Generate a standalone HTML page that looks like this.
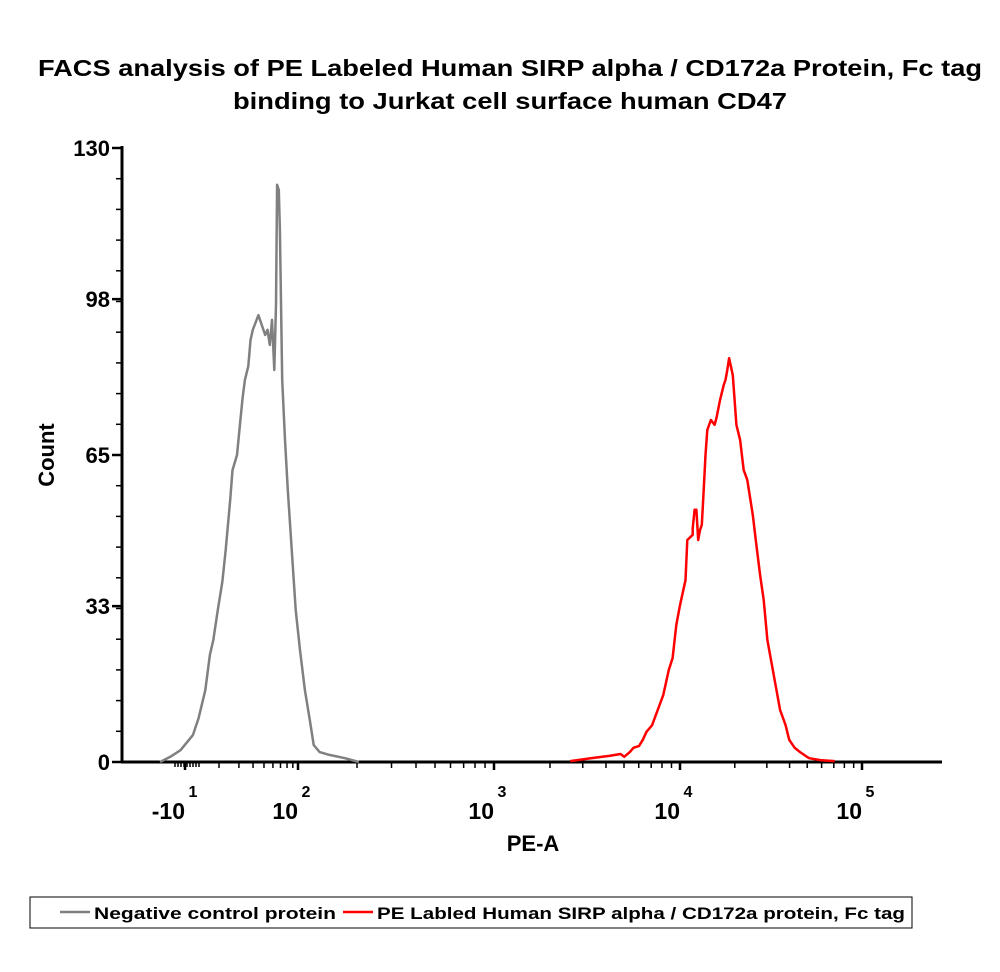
<!DOCTYPE html>
<html><head><meta charset="utf-8"><style>
body{margin:0;background:#fff;width:1000px;height:967px;overflow:hidden;font-family:"Liberation Sans",sans-serif}
</style></head><body>
<svg width="1000" height="967" viewBox="0 0 1000 967" xmlns="http://www.w3.org/2000/svg">
<text x="510" y="76" text-anchor="middle" font-size="23" font-weight="bold" textLength="944" lengthAdjust="spacingAndGlyphs">FACS analysis of PE Labeled Human SIRP alpha / CD172a Protein, Fc tag</text>
<text x="510" y="109" text-anchor="middle" font-size="23" font-weight="bold" textLength="554" lengthAdjust="spacingAndGlyphs">binding to Jurkat cell surface human CD47</text>
<g id="axes"></g>
<g id="series"></g>
<text x="533" y="851" text-anchor="middle" font-size="22" font-weight="bold">PE-A</text>
<text transform="translate(54,455) rotate(-90)" text-anchor="middle" font-size="22" font-weight="bold">Count</text>
<g>
<rect x="30" y="897" width="882" height="31" fill="#fff" stroke="#000" stroke-width="1"/>
<line x1="60" y1="912" x2="90" y2="912" stroke="#808080" stroke-width="2.5"/>
<text x="94" y="919" font-size="17" font-weight="bold" textLength="242" lengthAdjust="spacingAndGlyphs">Negative control protein</text>
<line x1="343" y1="912" x2="373" y2="912" stroke="#ff0000" stroke-width="2.5"/>
<text x="377" y="919" font-size="17" font-weight="bold" textLength="528" lengthAdjust="spacingAndGlyphs">PE Labled Human SIRP alpha / CD172a protein, Fc tag</text>
</g>
</svg>
<script>
const yTicks=[0,33,65,98,130];
const xDecades=[1,2,3,4,5];
const xDecadeLabels=["-10","10","10","10","10"];
const grayX=[0.78,0.87,0.96,1.07,1.12,1.18,1.22,1.25,1.29,1.33,1.36,1.40,1.42,1.46,1.49,1.51,1.53,1.56,1.58,1.60,1.65,1.68,1.71,1.73,1.75,1.77,1.79,1.805,1.815,1.83,1.84,1.86,1.885,1.91,1.95,1.98,2.01,2.035,2.06,2.08,2.11,2.16,2.24,2.31];
const grayY=[0,1.1,2.5,5.7,9.3,15.2,22.7,25.8,32.2,38.1,44.9,55.5,61.8,65,72.4,77.1,80.9,83.8,89.3,91.5,94.6,92.5,90.4,91.5,88.3,93.6,83,96.8,122.2,121.1,112.6,80.9,68.2,57.6,42.8,32.2,23.7,15.2,8.9,3.6,2.1,1.5,0.8,0];
const redX=[3.41,3.52,3.62,3.68,3.70,3.73,3.75,3.78,3.80,3.82,3.85,3.88,3.91,3.94,3.96,3.98,4.0,4.03,4.04,4.07,4.07,4.08,4.09,4.10,4.11,4.12,4.13,4.14,4.15,4.17,4.19,4.20,4.22,4.24,4.25,4.26,4.27,4.29,4.31,4.33,4.35,4.37,4.40,4.42,4.44,4.46,4.48,4.51,4.53,4.55,4.58,4.60,4.63,4.66,4.69,4.71,4.77,4.85];
const redY=[0.2,0.8,1.3,1.7,1.1,2.1,3.0,3.4,4.7,6.4,7.8,11.0,14.2,19.5,22.0,29.0,33.2,38.5,47.0,48.1,49.5,53.4,53.4,47.0,49.1,50.2,57.6,65.0,70.3,72.4,71.4,72.8,76.6,79.8,80.9,83.0,85.5,81.9,71.4,68.2,61.8,59.7,52.3,45.9,39.6,34.3,25.8,19.5,15.2,11.0,7.8,4.7,3.0,2.1,1.3,0.8,0.4,0.2];
const NS="http://www.w3.org/2000/svg";
const anchorsD=[1,2,3,4,5],anchorsPx=[185,298,494,680,862];
function xs(d){let i=0;if(d<=1)i=0;else if(d>=4)i=3;else i=Math.floor(d)-1;
 const d0=anchorsD[i],d1=anchorsD[i+1],p0=anchorsPx[i],p1=anchorsPx[i+1];return p0+(d-d0)*(p1-p0)/(d1-d0);}
const Y0=762,YT=148;function ys(v){return Y0-(v/130)*(Y0-YT);}
function mk(tag,attrs,parent){const e=document.createElementNS(NS,tag);for(const k in attrs)e.setAttribute(k,attrs[k]);parent.appendChild(e);return e;}
const ax=document.getElementById('axes');
let yl=mk('line',{x1:122,y1:146,x2:122,y2:763,stroke:'#000','stroke-width':3},ax);


let xl=mk('line',{x1:121,y1:762,x2:942,y2:762,stroke:'#000','stroke-width':3},ax);


for(let v=0;v<=130;v+=6.5){mk('line',{x1:116,y1:ys(v),x2:122,y2:ys(v),stroke:'#000','stroke-width':1.5},ax);}
yTicks.forEach(v=>{const t=mk('line',{x1:112,y1:ys(v),x2:122,y2:ys(v),stroke:'#000','stroke-width':2.5},ax);
 
 
 const lb=mk('text',{x:110,y:ys(v)+8,'text-anchor':'end','font-size':22,'font-weight':'bold'},ax);lb.textContent=v;
 
 });
for(let d=1;d<5;d++){for(let m=2;m<=9;m++){const x=xs(d+Math.log10(m));mk('line',{x1:x,y1:762,x2:x,y2:768,stroke:'#000','stroke-width':1.5},ax);}}
for(let x=175;x<200;x+=3)mk('line',{x1:x,y1:762,x2:x,y2:767,stroke:'#000','stroke-width':1.5},ax);
xDecades.forEach((d,i)=>{const x=xs(d);const t=mk('line',{x1:x,y1:762,x2:x,y2:770,stroke:'#000','stroke-width':2.5},ax);
 
 
 const lb=mk('text',{x:x,y:819,'text-anchor':'end','font-size':23,'font-weight':'bold'},ax);lb.textContent=xDecadeLabels[i];
 
 
 const sp=mk('text',{x:x+8,y:797,'text-anchor':'middle','font-size':16,'font-weight':'bold'},ax);sp.textContent=String(d);
 
 });
const sg=document.getElementById('series');
function draw(X,Y,col,name){const pts=X.map((d,i)=>xs(d).toFixed(1)+','+ys(Y[i]).toFixed(1)).join(' ');
 const p=mk('polyline',{points:pts,fill:'none',stroke:col,'stroke-width':2.5,'stroke-linejoin':'round'},sg);
 
 }
draw(grayX,grayY,'#808080','negative-control-histogram');
draw(redX,redY,'#ff0000','pe-sirp-alpha-histogram');
</script>
</body></html>
